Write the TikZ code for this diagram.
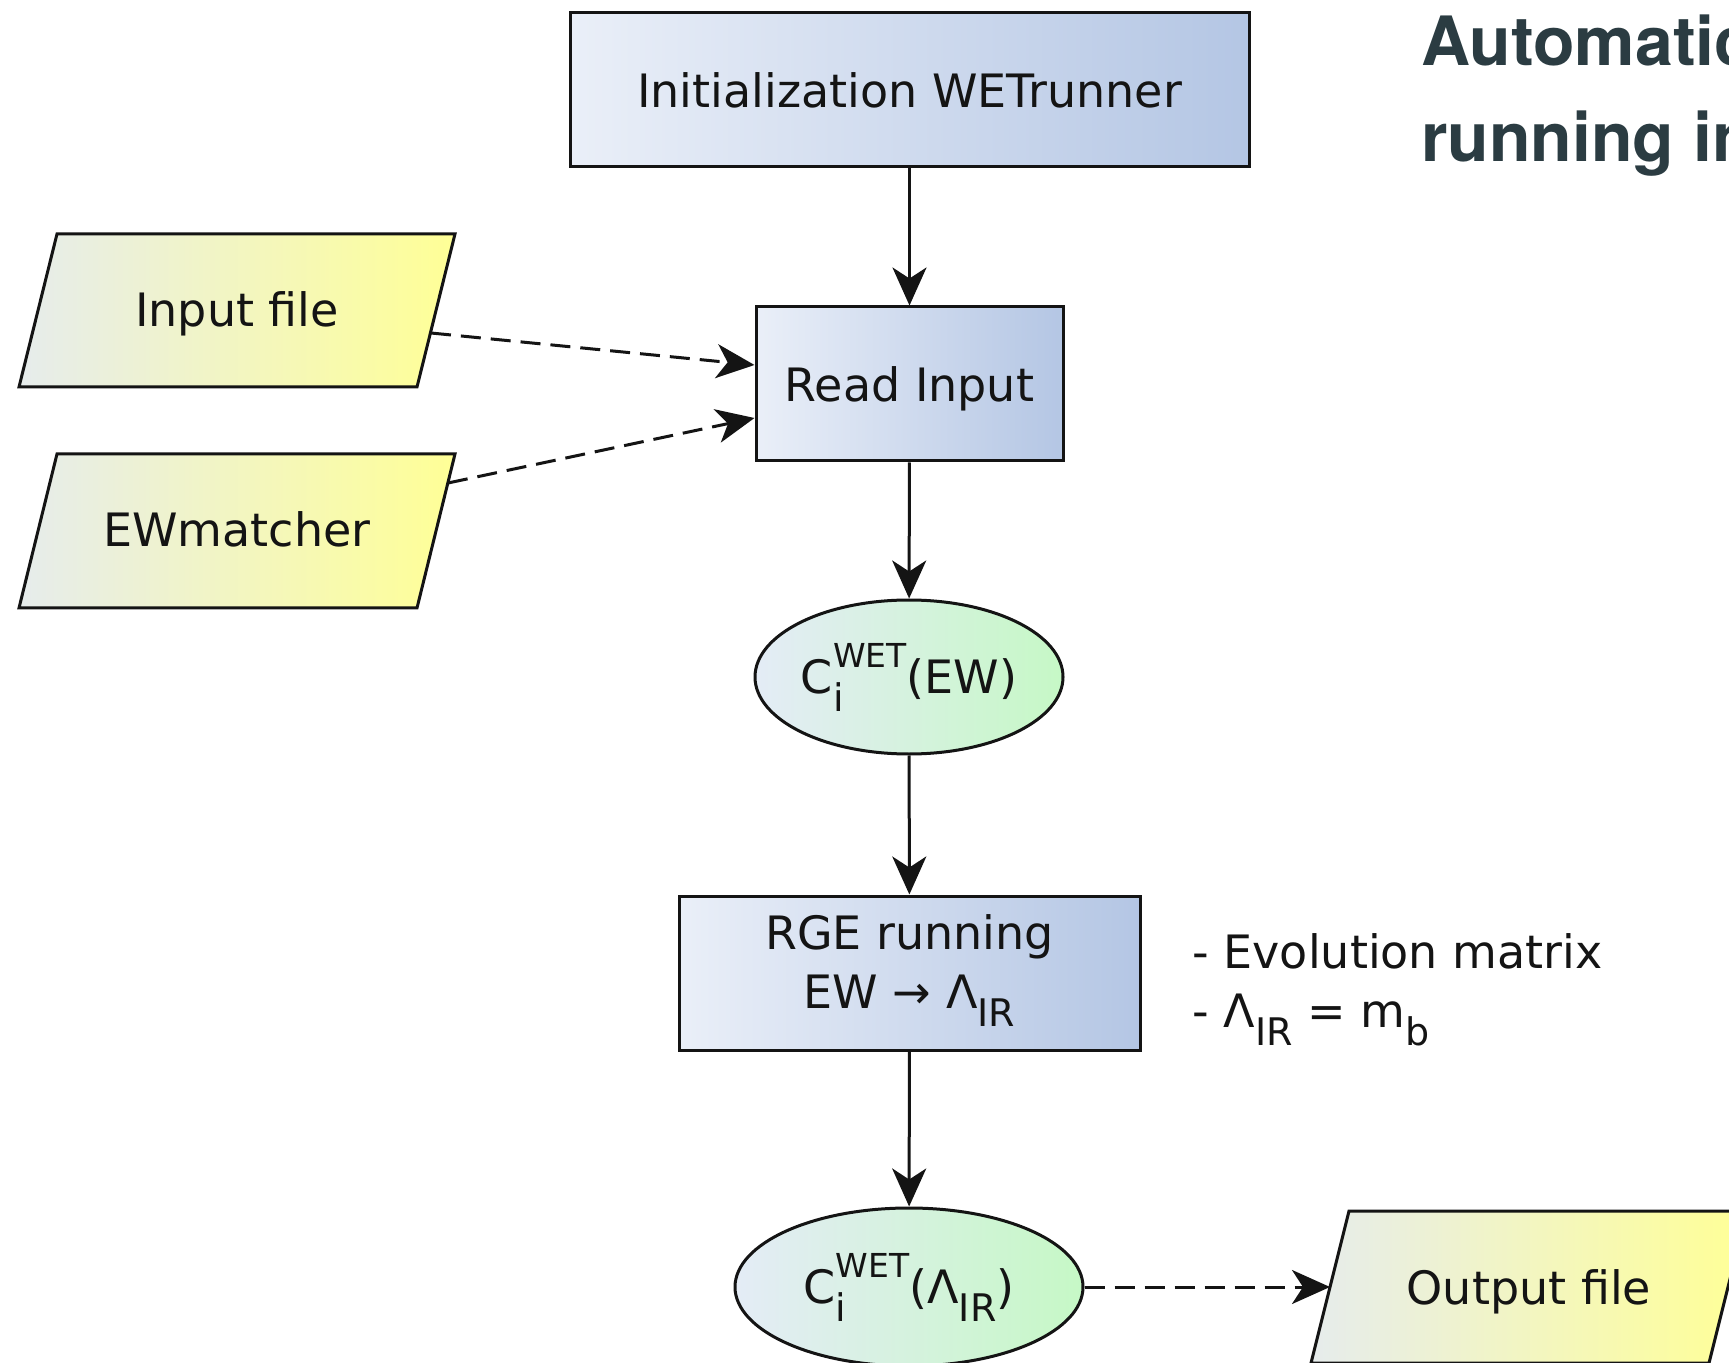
\documentclass[tikz,border=0pt]{standalone}
\usepackage{fontspec}
\setmainfont{DejaVu Sans}
\newfontfamily\titlefont{TeX Gyre Heros}
\usetikzlibrary{shapes.geometric,arrows.meta}
\definecolor{boxL}{RGB}{234,239,248}
\definecolor{boxR}{RGB}{180,198,228}
\definecolor{parL}{RGB}{230,236,236}
\definecolor{parR}{RGB}{255,255,150}
\definecolor{ellL}{RGB}{228,236,246}
\definecolor{ellR}{RGB}{198,248,198}
\definecolor{linec}{RGB}{20,20,20}
\definecolor{txt}{RGB}{20,20,20}
\definecolor{titlec}{RGB}{43,60,66}
\newcommand\lsub[1]{\raisebox{-9pt}{\fontsize{19pt}{20pt}\selectfont #1}}
\newcommand\esub[1]{\raisebox{-9pt}{\fontsize{19pt}{20pt}\selectfont #1}}
\newcommand\esup[1]{\raisebox{13pt}{\fontsize{16.5pt}{18pt}\selectfont #1}}
\newcommand\CiWET{C\rlap{\esub{i}}\esup{WET}}
\tikzset{
  lbl/.style={font=\fontsize{23pt}{29.5pt}\selectfont, text=txt},
  proc/.style={lbl, draw=linec, line width=1.5pt, rectangle, left color=boxL, right color=boxR,
               minimum height=77pt, inner sep=0pt, align=center},
  term/.style={lbl, draw=linec, line width=1.5pt, ellipse, left color=ellL, right color=ellR, inner sep=0pt},
  io/.style={draw=linec, line width=1.5pt, left color=parL, right color=parR, line join=miter},
  arr/.style={-{Stealth[length=19pt,width=17pt,inset=5.5pt]}, line width=1.5pt, draw=linec},
  darr/.style={arr, dash pattern=on 10pt off 5pt},
  ttl/.style={font=\titlefont\bfseries\fontsize{34pt}{48pt}\selectfont, text=titlec, inner sep=0pt, anchor=base west}
}
\begin{document}
\begin{tikzpicture}[x=0.5pt,y=-0.5pt]
\fill[white] (0,0) rectangle (1729,1363);
\useasboundingbox (0,0) rectangle (1729,1363);

% title
\node[ttl] (title1) at (1421,66) {Automatic};
\node[ttl] (title2) at (1421,162) {running in};

% process boxes and terminals
\node[proc, minimum width=339.5pt] (init) at (909.5,90) {Initialization WETrunner};
\node[proc, minimum width=153.5pt, text depth=0pt] (read) at (909.5,384) {Read Input};
\node[term, minimum width=154pt, minimum height=77pt] (e1) at (909,677) {\CiWET(EW)};
\node[proc, minimum width=230.5pt, text depth=11pt] (rge) at (909.5,973) {RGE running\\EW → Λ\lsub{IR}};
\node[term, minimum width=174pt, minimum height=79pt] (e2) at (909,1287) {\CiWET(Λ\esub{IR})};

% side notes
\node[lbl, anchor=base west, inner sep=0pt] (note1) at (1192,968) {- Evolution matrix};
\node[lbl, anchor=base west, inner sep=0pt] (note2) at (1192,1027) {- Λ\lsub{IR} = m\lsub{b}};

% input/output parallelograms
\path[io] (57,234) -- (455,234) -- (417,387) -- (19,387) -- cycle;
\node[lbl, anchor=base, inner sep=0pt] (infile) at (237,327) {Input file};
\path[io] (57,454) -- (455,454) -- (417,608) -- (19,608) -- cycle;
\node[lbl, anchor=base, inner sep=0pt] (ewm) at (237,547) {EWmatcher};
\path[io] (1349,1211) -- (1747,1211) -- (1709,1363) -- (1311,1363) -- cycle;
\node[lbl, anchor=base, inner sep=0pt] (outfile) at (1529,1304) {Output file};

% connector end points on parallelogram edges
\coordinate (infileE) at (431,333);
\coordinate (ewmE) at (448,483);
\coordinate (outW) at (1330,1287);
\coordinate (readA) at ([yshift=9.5pt]read.west);
\coordinate (readB) at ([yshift=-17pt]read.west);

% connectors
\draw[arr] (init) -- (read);
\draw[arr] (read) -- (e1);
\draw[arr] (e1) -- (rge);
\draw[arr] (rge) -- (e2);
\draw[darr] (infileE) -- (readA);
\draw[darr] (ewmE) -- (readB);
\draw[darr] (e2.east) -- (outW);
\end{tikzpicture}
\end{document}
